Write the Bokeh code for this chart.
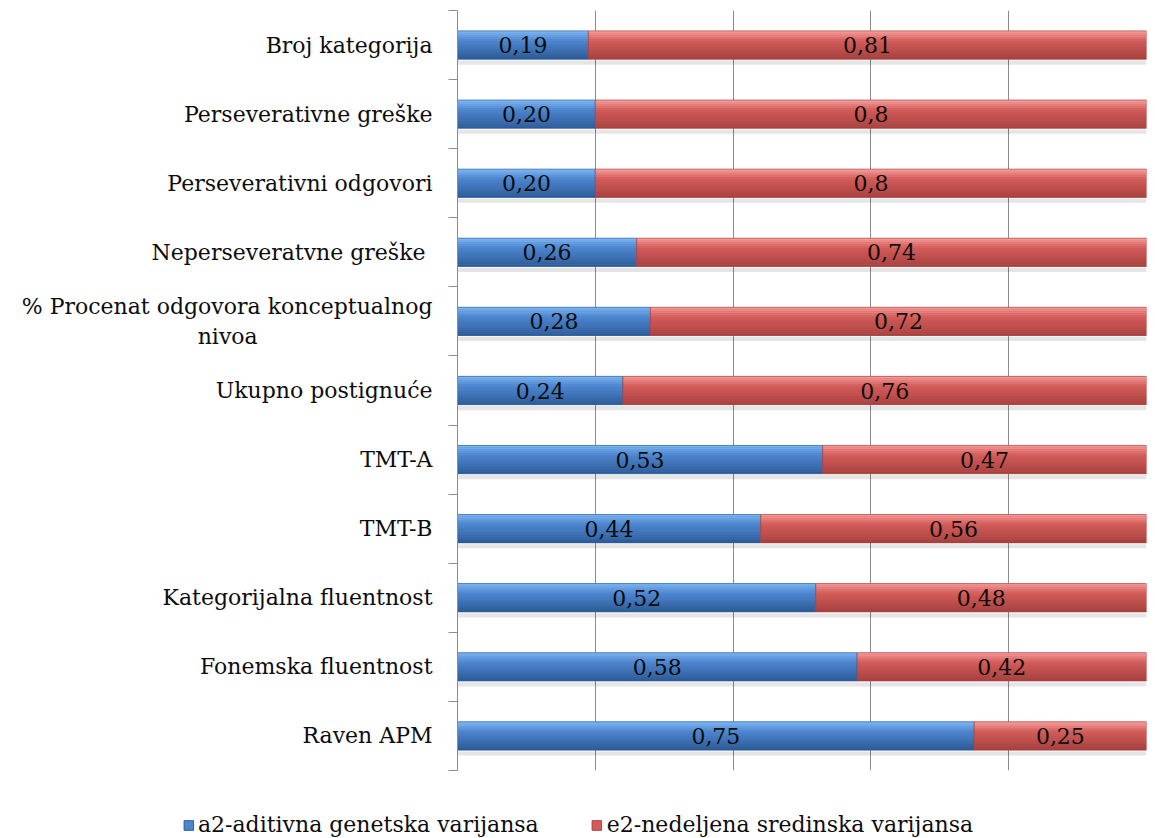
import numpy as np
from bokeh.plotting import figure
from bokeh.layouts import column
from bokeh.models import (Range1d, FixedTicker, Legend, LegendItem, ColumnDataSource)
from bokeh.core.properties import value
from bokeh.embed import file_html
from bokeh.resources import INLINE

# Measures, listed top to bottom
categories = [
    "Broj kategorija",
    "Perseverativne greške",
    "Perseverativni odgovori",
    "Neperseveratvne greške ",
    "% Procenat odgovora konceptualnog\nnivoa",
    "Ukupno postignuće",
    "TMT-A",
    "TMT-B",
    "Kategorijalna fluentnost",
    "Fonemska fluentnost",
    "Raven APM",
]
a2_values = [0.19, 0.20, 0.20, 0.26, 0.28, 0.24, 0.53, 0.44, 0.52, 0.58, 0.75]
e2_values = [0.81, 0.80, 0.80, 0.74, 0.72, 0.76, 0.47, 0.56, 0.48, 0.42, 0.25]
a2_labels = ["0,19", "0,20", "0,20", "0,26", "0,28", "0,24", "0,53", "0,44", "0,52", "0,58", "0,75"]
e2_labels = ["0,81", "0,8", "0,8", "0,74", "0,72", "0,76", "0,47", "0,56", "0,48", "0,42", "0,25"]
series_names = ["a2-aditivna genetska varijansa", "e2-nedeljena sredinska varijansa"]

FONT = "DejaVu Serif"
FS = "22px"
n = len(categories)
ys = np.arange(n)[::-1].astype(float)
a2 = np.array(a2_values)
e2 = np.array(e2_values)

p = figure(width=1155, height=790, output_backend="svg", toolbar_location=None,
           x_range=Range1d(0, 1), y_range=Range1d(-0.5, n - 0.5),
           min_border_left=457, min_border_right=9, min_border_top=10,
           min_border_bottom=20)
p.outline_line_color = None
p.background_fill_color = "white"
p.border_fill_color = "white"
p.frame_align = False

# Vertical grid lines every 0.2, no horizontal grid
p.xgrid.ticker = FixedTicker(ticks=[0.2, 0.4, 0.6, 0.8, 1.0])
p.xgrid.grid_line_color = "#8c8c8c"
p.xgrid.grid_line_width = 1
p.ygrid.grid_line_color = None
p.xaxis.visible = False

# Category axis: labels at bar centres, tick marks between categories
def centred_two_line(label):
    # pad the shorter line so both lines sit centred on each other
    if "\n" not in label:
        return label
    first, second = label.split("\n")
    pad = "\u00a0" * int(round((len(first) - len(second)) * 0.88))
    return first + "\n" + second + pad

yax = p.yaxis[0]
yax.ticker = FixedTicker(ticks=list(ys), minor_ticks=list(np.arange(-0.5, n, 1.0)))
yax.major_label_overrides = {float(y): centred_two_line(c) for y, c in zip(ys, categories)}
yax.major_tick_line_color = None
yax.major_tick_out = 0
yax.major_tick_in = 0
yax.minor_tick_line_color = "#8c8c8c"
yax.minor_tick_out = 9
yax.minor_tick_in = 0
yax.axis_line_color = "#8c8c8c"
yax.major_label_standoff = 16
yax.major_label_text_font = FONT
yax.major_label_text_font_size = FS
yax.major_label_text_color = "#0d0d0d"

BAR_H = 0.41

def shade(top, mid, bot, t):
    top, mid, bot = (np.array([int(c[i:i + 2], 16) for i in (1, 3, 5)]) for c in (top, mid, bot))
    if t < 0.35:
        c = top + (mid - top) * (t / 0.35)
    else:
        c = mid + (bot - mid) * ((t - 0.35) / 0.65)
    return "#%02x%02x%02x" % tuple(int(round(v)) for v in c)

palettes = [
    ("#80b8f4", "#4d86cf", "#2c5a96"),
    ("#f7a09e", "#d35c5a", "#a5403e"),
]
lefts = [np.zeros(n), a2]
rights = [a2, a2 + e2]

# soft shadow under each bar
p.hbar(y=ys - BAR_H * 0.62, left=0, right=a2 + e2, height=0.06,
       fill_color="#000000", fill_alpha=0.10, line_color=None)

for k, (pal, lft, rgt) in enumerate(zip(palettes, lefts, rights)):
    p.hbar(y=ys, left=lft, right=rgt, height=BAR_H,
           fill_color=pal[1], line_color=None)
    N = 14
    for j in range(N):
        t = (j + 0.5) / N
        off = BAR_H / 2 - (j + 0.5) * BAR_H / N
        p.hbar(y=ys + off, left=lft, right=rgt, height=BAR_H / N + 0.002,
               fill_color=shade(*pal, t), line_color=None)
    # thin dark edge
    p.hbar(y=ys, left=lft, right=rgt, height=BAR_H, fill_color=None,
           line_color=pal[2], line_width=1, line_alpha=0.6)

# value labels centred in each segment
lab_src = ColumnDataSource(dict(
    x=np.concatenate([a2 / 2, a2 + e2 / 2]),
    y=np.concatenate([ys, ys]),
    t=a2_labels + e2_labels,
))
p.text(x="x", y="y", text="t", source=lab_src, text_align="center",
       text_baseline="middle", text_font=value(FONT), text_font_size=FS,
       text_color="#0d0d0d")

# legend strip underneath, centred on the page
leg = figure(width=1155, height=48, output_backend="svg", toolbar_location=None,
             x_range=Range1d(0, 1), y_range=Range1d(0, 1),
             min_border_left=0, min_border_right=0, min_border_top=0,
             min_border_bottom=0)
leg.frame_align = False
leg.outline_line_color = None
leg.axis.visible = False
leg.grid.visible = False
items = []
for k, pal in enumerate(palettes):
    r = leg.hbar(y=[-5], left=[0], right=[0.1], height=0.1,
                 fill_color=pal[1], line_color=pal[2])
    items.append(LegendItem(label=series_names[k], renderers=[r]))
legend = Legend(items=items, orientation="horizontal", location="bottom_center",
                label_text_font=FONT, label_text_font_size=FS,
                label_text_color="#0d0d0d", glyph_width=12, glyph_height=12,
                spacing=52, label_standoff=4, padding=0, margin=1,
                background_fill_alpha=0, border_line_color=None)
leg.add_layout(legend, "center")

open("out.html", "w").write(file_html(column(p, leg), INLINE))
